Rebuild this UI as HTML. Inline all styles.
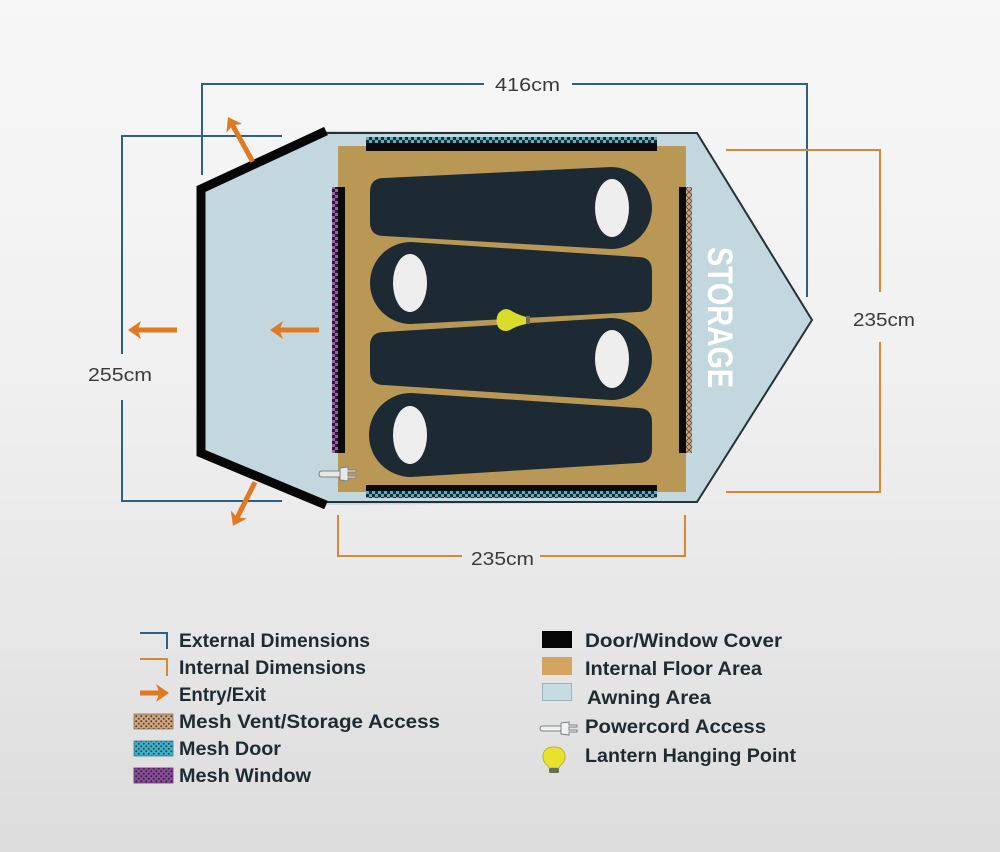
<!DOCTYPE html>
<html>
<head>
<meta charset="utf-8">
<style>
html,body{margin:0;padding:0;}
body{width:1000px;height:852px;overflow:hidden;background:linear-gradient(to bottom,#f7f7f7 0%,#f1f1f1 40%,#e8e8e8 70%,#dcdcdc 100%);}
svg{display:block;}
.dim{font-family:"Liberation Sans",sans-serif;font-size:18px;fill:#3a3a3a;}
.leg{font-family:"Liberation Sans",sans-serif;font-size:19px;font-weight:bold;fill:#1e2b31;}
</style>
</head>
<body>
<svg width="1000" height="852" viewBox="0 0 1000 852" xmlns="http://www.w3.org/2000/svg">
<defs>
  <pattern id="chkTeal" width="6" height="6" patternUnits="userSpaceOnUse" x="0" y="137">
    <rect width="6" height="6" fill="#1b2b31"/>
    <rect x="0" y="0" width="3" height="3" fill="#52b4c6"/>
    <rect x="3" y="3" width="3" height="3" fill="#52b4c6"/>
  </pattern>
  <pattern id="chkTeal2" width="6" height="6" patternUnits="userSpaceOnUse" x="0" y="491">
    <rect width="6" height="6" fill="#1b2b31"/>
    <rect x="0" y="0" width="3" height="3" fill="#52b4c6"/>
    <rect x="3" y="3" width="3" height="3" fill="#52b4c6"/>
  </pattern>
  <pattern id="chkPurp" width="6" height="6" patternUnits="userSpaceOnUse" x="332" y="0">
    <rect width="6" height="6" fill="#2a1a30"/>
    <rect x="0" y="0" width="3" height="3" fill="#9a5fa8"/>
    <rect x="3" y="3" width="3" height="3" fill="#9a5fa8"/>
  </pattern>
  <pattern id="chkBrown" width="6" height="6" patternUnits="userSpaceOnUse" x="686" y="0">
    <rect width="6" height="6" fill="#c9a583"/>
    <path d="M0 3 L3 0 L6 3 L3 6 Z" fill="none" stroke="#5a4636" stroke-width="0.8"/>
  </pattern>
  <pattern id="dotTan" width="5" height="5" patternUnits="userSpaceOnUse">
    <rect width="5" height="5" fill="#d0a77d"/>
    <circle cx="1.25" cy="1.25" r="1" fill="#4f3e30"/>
    <circle cx="3.75" cy="3.75" r="1" fill="#4f3e30"/>
  </pattern>
  <pattern id="dotTeal" width="5" height="5" patternUnits="userSpaceOnUse">
    <rect width="5" height="5" fill="#3fb2cc"/>
    <circle cx="1.25" cy="1.25" r="1" fill="#1c4650"/>
    <circle cx="3.75" cy="3.75" r="1" fill="#1c4650"/>
  </pattern>
  <pattern id="dotPurp" width="5" height="5" patternUnits="userSpaceOnUse">
    <rect width="5" height="5" fill="#8a4e98"/>
    <circle cx="1.25" cy="1.25" r="1" fill="#3a1e42"/>
    <circle cx="3.75" cy="3.75" r="1" fill="#3a1e42"/>
  </pattern>
  <g id="arr">
    <rect x="9" y="-2.6" width="1" height="5.2" fill="#e07a22"/>
    <polygon points="0,0 13,-9 10.5,-2.6 10.5,2.6 13,9" fill="#e07a22"/>
  </g>
</defs>

<!-- External dimension lines (blue) -->
<g stroke="#2f5f88" stroke-width="2" fill="none">
  <polyline points="202,175 202,84 484,84"/>
  <polyline points="572,84 807,84 807,297"/>
  <polyline points="282,136 122,136 122,354"/>
  <polyline points="122,400 122,501 282,501"/>
</g>
<!-- Internal dimension lines (orange) -->
<g stroke="#dc8632" stroke-width="2" fill="none">
  <polyline points="726,150 880,150 880,292"/>
  <polyline points="880,342 880,492 726,492"/>
  <polyline points="338,515 338,556 462,556"/>
  <polyline points="540,556 685,556 685,515"/>
</g>

<!-- dimension labels -->
<text class="dim" x="495" y="91" textLength="65" lengthAdjust="spacingAndGlyphs">416cm</text>
<text class="dim" x="88" y="381" textLength="64" lengthAdjust="spacingAndGlyphs">255cm</text>
<text class="dim" x="853" y="326" textLength="62" lengthAdjust="spacingAndGlyphs">235cm</text>
<text class="dim" x="471" y="565" textLength="63" lengthAdjust="spacingAndGlyphs">235cm</text>

<!-- Tent awning -->
<polygon points="200,188 326,131 697,133 812,320 697,502 326,505 200,453" fill="#c3d8de"/>
<polyline points="326,133 697,133 812,320 697,502 326,502" fill="none" stroke="#263238" stroke-width="2"/>

<!-- Floor -->
<rect x="338" y="146" width="348" height="346" fill="#b99856"/>

<!-- Mesh door top -->
<rect x="366" y="137" width="291" height="6" fill="url(#chkTeal)"/>
<rect x="366" y="143" width="291" height="8" fill="#0b0b0b"/>
<!-- Mesh door bottom -->
<rect x="366" y="485" width="291" height="6" fill="#0b0b0b"/>
<rect x="366" y="491" width="291" height="7" fill="url(#chkTeal2)"/>
<!-- Left mesh window -->
<rect x="332" y="187" width="6" height="266" fill="url(#chkPurp)"/>
<rect x="338" y="187" width="7" height="266" fill="#0b0b0b"/>
<!-- Right mesh vent -->
<rect x="679" y="187" width="7" height="266" fill="#0b0b0b"/>
<rect x="686" y="187" width="6" height="266" fill="url(#chkBrown)"/>

<!-- Thick black walls -->
<polyline points="326,131 201,189 201,453 326,505" fill="none" stroke="#070707" stroke-width="9" stroke-linejoin="miter"/>

<!-- Sleeping bags -->
<g fill="#1d2a33">
  <path d="M384,178 L611,167 A41,41 0 0 1 611,249 L384,236 Q370,236 370,222 L370,192 Q370,178 384,178 Z"/>
  <path d="M411,242 L638,257 Q652,257 652,271 L652,298 Q652,312 638,312 L411,324 A41,41 0 0 1 411,242 Z"/>
  <path d="M384,332 L611,318 A41,41 0 0 1 611,400 L384,385 Q370,385 370,371 L370,346 Q370,332 384,332 Z"/>
  <path d="M411,393 L638,408 Q652,408 652,422 L652,449 Q652,463 638,463 L411,477 A42,42 0 0 1 411,393 Z"/>
</g>
<g fill="#eeeeee">
  <ellipse cx="612" cy="208" rx="17" ry="29"/>
  <ellipse cx="410" cy="283" rx="17" ry="29"/>
  <ellipse cx="612" cy="359" rx="17" ry="29"/>
  <ellipse cx="410" cy="435" rx="17" ry="29"/>
</g>

<!-- Lantern -->
<path d="M498,314 Q503,307 510,310 Q516,314 526,317 L526,324 Q516,326 510,330 Q503,333 498,327 Q495,320 498,314 Z" fill="#d9dc2a"/>
<rect x="526" y="316" width="4" height="8" fill="#6b6a58"/>

<!-- Powercord in tent -->
<g fill="#e6e9ea" stroke="#7d8487" stroke-width="1">
  <path d="M322,471 L341,471 L341,477 L322,477 Q319,477 319,474 Q319,471 322,471 Z"/>
  <path d="M340,468 L348,467 L348,470 L356,470 L356,472 L348,472 L348,476 L356,476 L356,478 L348,478 L348,481 L340,480 Z"/>
</g>

<!-- STORAGE -->
<text transform="translate(708,247) rotate(90)" x="0" y="0" font-family="'Liberation Sans',sans-serif" font-weight="bold" font-size="35" fill="#ffffff" textLength="141" lengthAdjust="spacingAndGlyphs">STORAGE</text>

<!-- Orange entry/exit arrows -->
<g>
  <use href="#arr" transform="translate(128,330)"/>
  <rect x="138" y="327.5" width="39" height="5" fill="#e07a22"/>
  <use href="#arr" transform="translate(270,330)"/>
  <rect x="280" y="327.5" width="39" height="5" fill="#e07a22"/>
  <g transform="translate(228,117) rotate(61)">
    <use href="#arr"/>
    <rect x="10" y="-2.5" width="41" height="5" fill="#e07a22"/>
  </g>
  <g transform="translate(233,526) rotate(-63.4)">
    <use href="#arr"/>
    <rect x="10" y="-2.5" width="39" height="5" fill="#e07a22"/>
  </g>
</g>

<!-- Legend left -->
<polyline points="140,633 167,633 167,649" fill="none" stroke="#2f5f88" stroke-width="2"/>
<polyline points="140,659 167,659 167,676" fill="none" stroke="#dc8632" stroke-width="2"/>
<g transform="translate(169,693) rotate(180)">
  <use href="#arr"/>
  <rect x="10" y="-2.5" width="19" height="5" fill="#e07a22"/>
</g>
<rect x="134" y="714" width="39" height="15" fill="url(#dotTan)" stroke="#8a7560" stroke-width="0.8"/>
<rect x="134" y="741" width="39" height="15" fill="url(#dotTeal)" stroke="#3a7f90" stroke-width="0.8"/>
<rect x="134" y="768" width="39" height="15" fill="url(#dotPurp)" stroke="#5e3569" stroke-width="0.8"/>

<text class="leg" x="179" y="647" textLength="191" lengthAdjust="spacingAndGlyphs">External Dimensions</text>
<text class="leg" x="179" y="674" textLength="187" lengthAdjust="spacingAndGlyphs">Internal Dimensions</text>
<text class="leg" x="179" y="701" textLength="87" lengthAdjust="spacingAndGlyphs">Entry/Exit</text>
<text class="leg" x="179" y="728" textLength="261" lengthAdjust="spacingAndGlyphs">Mesh Vent/Storage Access</text>
<text class="leg" x="179" y="755" textLength="102" lengthAdjust="spacingAndGlyphs">Mesh Door</text>
<text class="leg" x="179" y="782" textLength="132" lengthAdjust="spacingAndGlyphs">Mesh Window</text>

<!-- Legend right -->
<rect x="542" y="631" width="30" height="17" fill="#050505"/>
<rect x="542" y="657" width="30" height="18" fill="#d4a462"/>
<rect x="542.5" y="683.5" width="29" height="17" fill="#c5dce2" stroke="#9fb4ba" stroke-width="1"/>
<g fill="#f2f2f2" stroke="#7d8487" stroke-width="1">
  <path d="M543,726 L562,726 L562,731 L543,731 Q540,731 540,728.5 Q540,726 543,726 Z"/>
  <path d="M561,723 L569,722 L569,725 L577,725 L577,727 L569,727 L569,730 L577,730 L577,732 L569,732 L569,735 L561,734 Z"/>
</g>
<path d="M554,747 Q565,747 565,757 Q565,762 560,766 L559,768 L549,768 L548,766 Q543,762 543,757 Q543,747 554,747 Z" fill="#e9e22c" stroke="#b0a91e" stroke-width="0.8"/>
<rect x="549" y="768" width="10" height="5" rx="1.5" fill="#6c6c5c"/>

<text class="leg" x="585" y="647" textLength="197" lengthAdjust="spacingAndGlyphs">Door/Window Cover</text>
<text class="leg" x="585" y="675" textLength="177" lengthAdjust="spacingAndGlyphs">Internal Floor Area</text>
<text class="leg" x="587" y="704" textLength="124" lengthAdjust="spacingAndGlyphs">Awning Area</text>
<text class="leg" x="585" y="733" textLength="181" lengthAdjust="spacingAndGlyphs">Powercord Access</text>
<text class="leg" x="585" y="762" textLength="211" lengthAdjust="spacingAndGlyphs">Lantern Hanging Point</text>
</svg>
</body>
</html>
